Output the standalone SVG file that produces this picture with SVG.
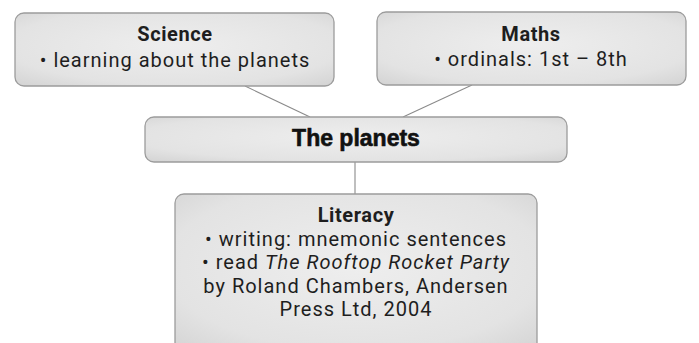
<svg xmlns="http://www.w3.org/2000/svg" width="699" height="343" viewBox="0 0 699 343">
<defs>
<radialGradient id="g" cx="50%" cy="45%" r="75%">
<stop offset="0" stop-color="#eeeeee"/>
<stop offset="0.7" stop-color="#e3e3e3"/>
<stop offset="1" stop-color="#d2d2d2"/>
</radialGradient>
<style>
.box{fill:url(#g);stroke:#9c9c9c;stroke-width:1.3}
.t{font-family:Roboto,"Liberation Sans",sans-serif;font-size:20px;letter-spacing:1px;fill:#1e1e1e;text-anchor:middle}
.b{font-weight:bold;letter-spacing:0.6px}
.i{font-style:italic}
.h{font-family:"Liberation Sans",Arial,sans-serif;font-weight:bold;font-size:23px;fill:#111;stroke:#111;stroke-width:0.6;text-anchor:middle}
.c{stroke:#8a8a8a;stroke-width:1.1;fill:none}
</style>
</defs>
<rect width="699" height="343" fill="#ffffff"/>
<g id="connectors">
<line class="c" x1="245" y1="86" x2="310" y2="117"/>
<line class="c" x1="472" y1="85" x2="403" y2="117"/>
<line class="c" x1="355" y1="162" x2="355" y2="194"/>
</g>
<g id="science">
<rect class="box" x="15" y="13" width="319" height="73" rx="9"/>
<text class="t b" x="175" y="41">Science</text>
<text class="t" x="175" y="67">• learning about the planets</text>
</g>
<g id="maths">
<rect class="box" x="377" y="12" width="309" height="73" rx="9"/>
<text class="t b" x="531" y="41">Maths</text>
<text class="t" x="531" y="66">• ordinals: 1st – 8th</text>
</g>
<g id="planets">
<rect class="box" x="145" y="117" width="422" height="45" rx="9"/>
<text class="h" x="356" y="146">The planets</text>
</g>
<g id="literacy">
<rect class="box" x="175" y="194" width="362" height="160" rx="9"/>
<text class="t b" x="356" y="222">Literacy</text>
<text class="t" x="356" y="245.5">• writing: mnemonic sentences</text>
<text class="t" x="356" y="269">• read <tspan class="i">The Rooftop Rocket Party</tspan></text>
<text class="t" x="356" y="292.5">by Roland Chambers, Andersen</text>
<text class="t" x="356" y="316">Press Ltd, 2004</text>
</g>
</svg>
